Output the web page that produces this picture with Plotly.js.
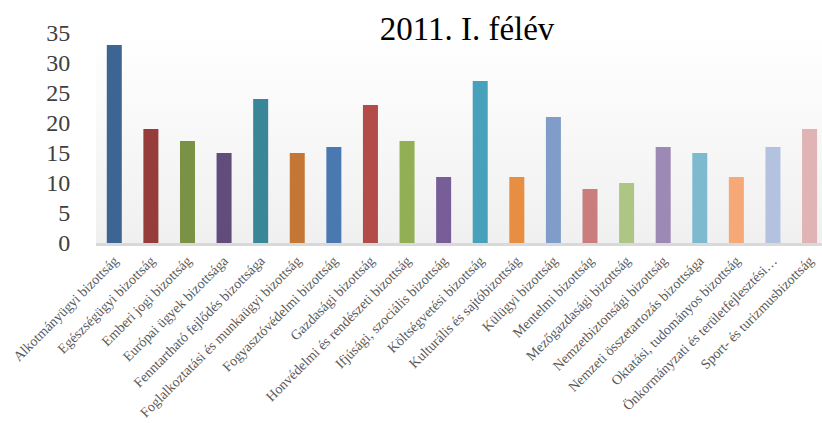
<!DOCTYPE html>
<html>
<head>
<meta charset="utf-8">
<script src="https://cdn.plot.ly/plotly-3.0.1.min.js"></script>
<style>html,body{margin:0;padding:0;background:#fff;}#chart{width:822px;height:423px;}</style>
</head>
<body>
<div id="chart"></div>
<script>
const categories = [
  "Alkotmányügyi bizottság",
  "Egészségügyi bizottság",
  "Emberi jogi bizottság",
  "Európai ügyek bizottsága",
  "Fenntartható fejlődés bizottsága",
  "Foglalkoztatási és munkaügyi bizottság",
  "Fogyasztóvédelmi bizottság",
  "Gazdasági bizottság",
  "Honvédelmi és rendészeti bizottság",
  "Ifjúsági, szociális bizottság",
  "Költségvetési bizottság",
  "Kulturális és sajtóbizottság",
  "Külügyi bizottság",
  "Mentelmi bizottság",
  "Mezőgazdasági bizottság",
  "Nemzetbiztonsági bizottság",
  "Nemzeti összetartozás bizottsága",
  "Oktatási, tudományos bizottság",
  "Önkormányzati és területfejlesztési…",
  "Sport- és turizmusbizottság"
];
const values = [33, 19, 17, 15, 24, 15, 16, 23, 17, 11, 27, 11, 21, 9, 10, 16, 15, 11, 16, 19];
const barColors = [
  "#3D6594", "#963C3B", "#7A9243", "#624C7C", "#3A8699",
  "#C47735", "#4A79B1", "#B34B49", "#92AF54", "#785E98",
  "#48A1BA", "#E88E42", "#809CC8", "#C97D7C", "#AEC683",
  "#9C89B4", "#7DB9CF", "#F6A976", "#B3C3DF", "#E0B4B4"
];
const titleText = "2011. I. félév";

const serif = "Georgia, 'Liberation Serif', 'DejaVu Serif', serif";

const svg = "<svg xmlns='http://www.w3.org/2000/svg' width='100' height='100' viewBox='0 0 100 100' preserveAspectRatio='none'><defs><linearGradient id='g' x1='0' y1='0' x2='0' y2='1'><stop offset='0' stop-color='#ffffff'/><stop offset='1' stop-color='#f0f0f0'/></linearGradient></defs><rect width='100' height='100' fill='url(#g)'/></svg>";
const bgSrc = "data:image/svg+xml;base64," + btoa(svg);

const trace = {
  type: "bar",
  x: categories.map((c, i) => i),
  y: values,
  marker: { color: barColors, line: { width: 0 } },
  width: 0.41,
  hoverinfo: "x+y"
};

const layout = {
  width: 822,
  height: 423,
  margin: { l: 96, r: 0, t: 33, b: 180 },
  paper_bgcolor: "#ffffff",
  plot_bgcolor: "rgba(0,0,0,0)",
  showlegend: false,
  title: {
    text: titleText,
    font: { family: serif, size: 33, color: "#000000" },
    x: 467 / 822, xref: "container", xanchor: "center",
    y: 1 - 28 / 423, yref: "container", yanchor: "middle"
  },
  xaxis: {
    range: [-0.5, 19.34],
    tickmode: "array",
    tickvals: categories.map((c, i) => i),
    ticktext: categories,
    tickangle: -45,
    tickfont: { family: serif, size: 14, color: "#595959" },
    showgrid: false,
    zeroline: false,
    showline: true,
    linecolor: "#d9d9d9",
    linewidth: 3,
    ticks: "outside",
    ticklen: 1,
    tickcolor: "rgba(0,0,0,0)"
  },
  yaxis: {
    range: [0, 35],
    tickvals: [0, 5, 10, 15, 20, 25, 30, 35],
    tickfont: { family: serif, size: 24, color: "#404040" },
    showgrid: false,
    zeroline: false,
    showline: false,
    ticks: "outside",
    ticklen: 20,
    tickcolor: "rgba(0,0,0,0)"
  },
  images: [{
    source: bgSrc,
    xref: "paper", yref: "paper",
    x: 0, y: 1, sizex: 1, sizey: 1,
    xanchor: "left", yanchor: "top",
    sizing: "stretch",
    layer: "below"
  }]
};

Plotly.newPlot("chart", [trace], layout, { displayModeBar: false, staticPlot: true });
</script>
</body>
</html>
